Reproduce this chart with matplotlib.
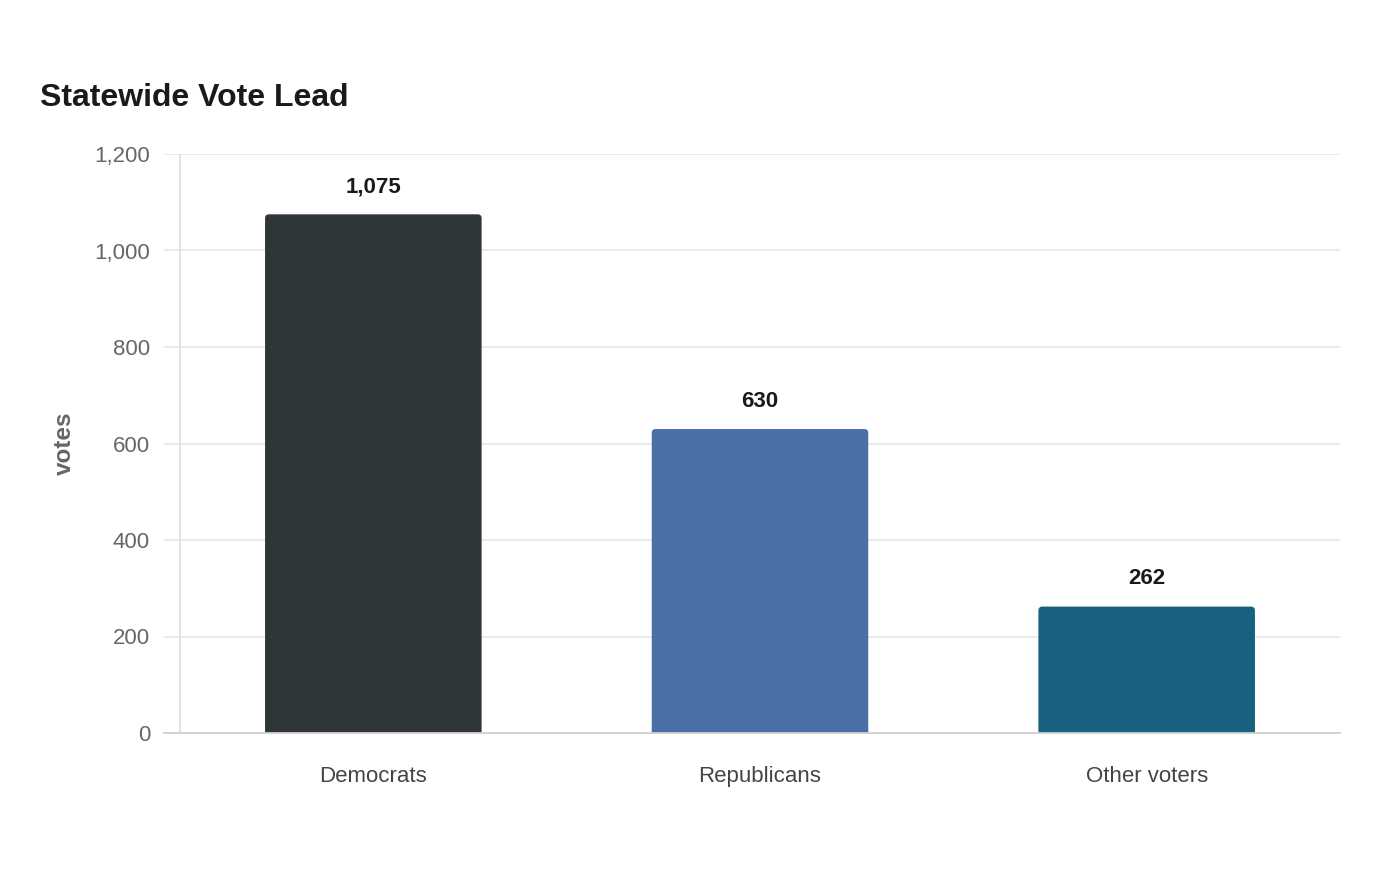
import matplotlib
matplotlib.use("Agg")
import matplotlib.pyplot as plt
from matplotlib.patches import FancyBboxPatch
from matplotlib.ticker import FuncFormatter

categories = ["Democrats", "Republicans", "Other voters"]
votes = [1075, 630, 262]
colors = ["#2e3638", "#4a6fa5", "#17607f"]
yticks = [0, 200, 400, 600, 800, 1000, 1200]

plt.rcParams['font.family'] = ['Liberation Sans', 'DejaVu Sans']

W, H = 1400, 880
fig = plt.figure(figsize=(14, 8.8), dpi=100)
ax_l, ax_r, ax_t, ax_b = 164, 1340, 154, 733
ax = fig.add_axes([ax_l / W, (H - ax_b) / H, (ax_r - ax_l) / W, (ax_b - ax_t) / H])

plot_left_px = 180
units_per_px_x = 3 / (ax_r - plot_left_px)
xmin = -0.5 - (plot_left_px - ax_l) * units_per_px_x
ax.set_xlim(xmin, 2.5)
ax.set_ylim(0, 1200)

units_per_px_y = 1200 / (ax_b - ax_t)
bar_w = 0.56
r_px = 4
aspect = units_per_px_y / units_per_px_x
for i, (v, c) in enumerate(zip(votes, colors)):
    x0 = i - bar_w / 2
    p = FancyBboxPatch((x0, -20), bar_w, v + 20,
                       boxstyle=f"round,pad=0,rounding_size={r_px * units_per_px_x}",
                       mutation_aspect=aspect, facecolor=c, edgecolor='none',
                       zorder=3, clip_on=True)
    ax.add_patch(p)
    ax.annotate(f"{v:,}", (i, v), xytext=(0, 20), textcoords='offset points',
                ha='center', va='center', fontsize=16, fontweight='bold',
                color='#1a1a1a', zorder=4)

ax.set_yticks(yticks)
ax.yaxis.set_major_formatter(FuncFormatter(lambda v, p: f"{int(v):,}"))
ax.set_xticks(range(len(categories)))
ax.set_xticklabels(categories)
ax.tick_params(axis='y', length=0, pad=10, labelsize=16, labelcolor='#666666')
ax.tick_params(axis='x', length=0, pad=24, labelsize=16, labelcolor='#444444')

ax.grid(axis='y', color='#e6e6e6', linewidth=1.2, zorder=0)
ax.set_axisbelow(True)
for s in ['top', 'right', 'left']:
    ax.spines[s].set_visible(False)
ax.spines['bottom'].set_color('#d0d0d0')
ax.spines['bottom'].set_linewidth(1.3)
ax.spines['bottom'].set_zorder(5)
ax.axvline(-0.5, color='#dddddd', linewidth=1.2, zorder=1)

ax.set_ylabel("votes", fontsize=17.5, fontweight='bold', color='#666666')
ax.yaxis.set_label_coords((76 - ax_l) / (ax_r - ax_l), 0.5)

fig.text(40 / W, (H - 98) / H, "Statewide Vote Lead", fontsize=23, fontweight='bold',
         color='#1a1a1a', ha='left', va='center')

fig.savefig("out.png", dpi=100, facecolor='white')
